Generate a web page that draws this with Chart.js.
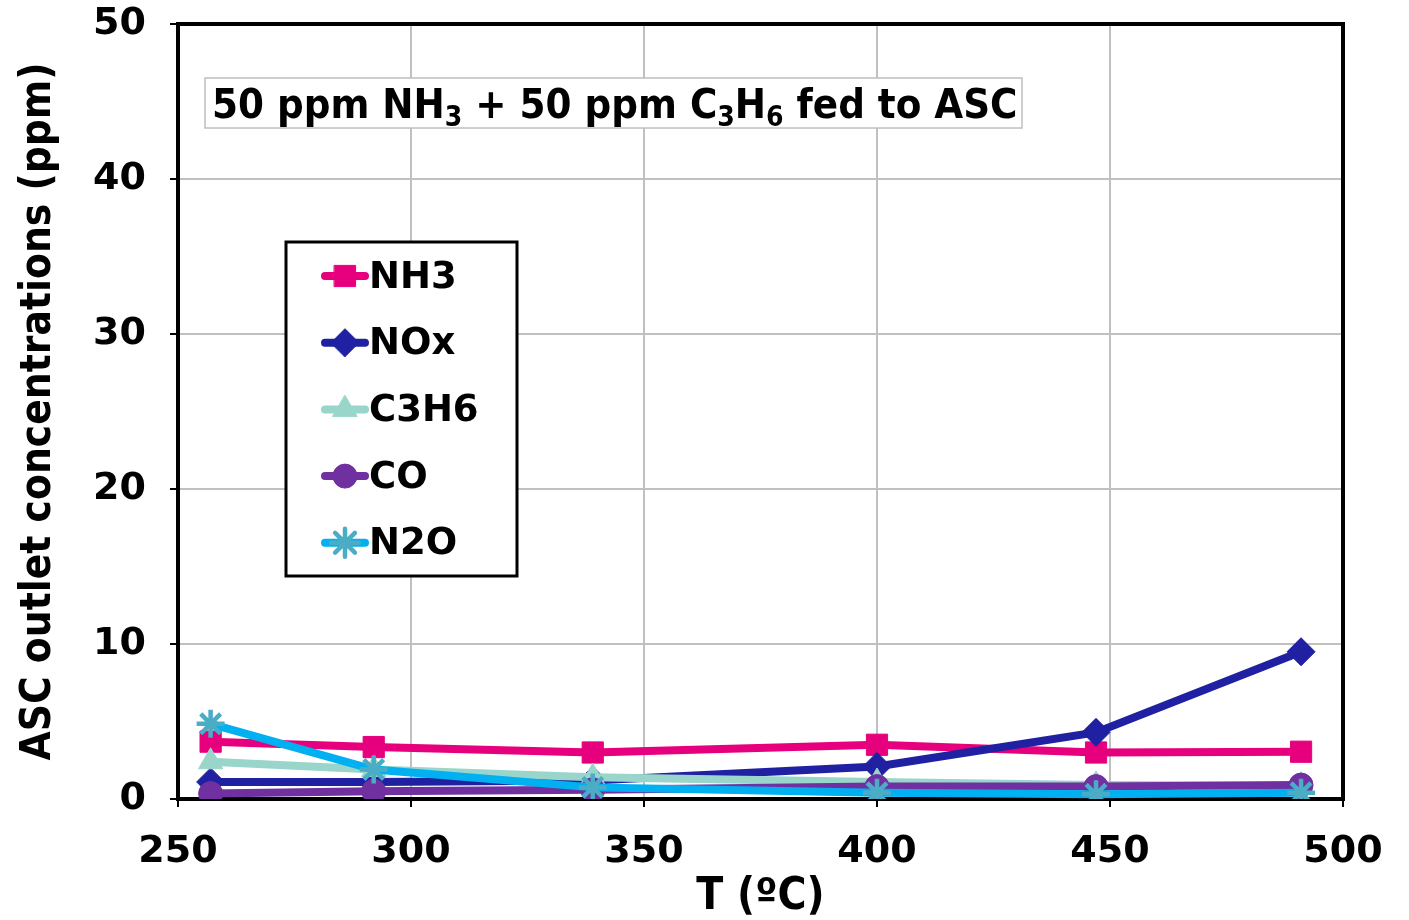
<!DOCTYPE html>
<html>
<head>
<meta charset="utf-8">
<script src="https://cdn.jsdelivr.net/npm/chart.js@4.4.1/dist/chart.umd.min.js"></script>
<style>
  html, body { margin: 0; padding: 0; background: #fff; }
  #wrap { width: 1409px; height: 920px; }
</style>
</head>
<body>
<div id="wrap"><canvas id="LineChart" width="1409" height="920"></canvas></div>
<script>
// temperatures (ºC) and outlet concentrations (ppm)
var temps = [257, 292, 339, 400, 447, 491];
var nh3  = [3.7, 3.35, 3.0, 3.5, 3.0, 3.05];
var nox  = [1.1, 1.1, 1.2, 2.1, 4.3, 9.5];
var c3h6 = [2.4, 1.9, 1.4, 1.1, 0.9, 0.85];
var co   = [0.35, 0.5, 0.6, 0.8, 0.8, 0.9];
var n2o  = [4.85, 1.9, 0.75, 0.4, 0.3, 0.4];

var xTicks = [250, 300, 350, 400, 450, 500];
var yTicks = [0, 10, 20, 30, 40, 50];

function puntos(valores) {
    return temps.map(function(t, i) { return { x: t, y: valores[i] }; });
}

function serie(label, valores, color, estilo, radio, orden, colorPunto) {
    return {
        label: label,
        data: puntos(valores),
        borderColor: color,
        backgroundColor: colorPunto || color,
        borderWidth: 8,
        pointStyle: estilo,
        pointRadius: radio,
        pointBackgroundColor: colorPunto || color,
        pointBorderColor: colorPunto || color,
        pointBorderWidth: estilo === 'star' ? 4.5 : 1,
        tension: 0,
        order: orden
    };
}

var fuente = 'DejaVu Sans';
var fuenteCond = '"DejaVu Sans Condensed", "DejaVu Sans"';

// recuadro con el texto de condiciones
var cajaTitulo = {
    id: 'cajaTitulo',
    afterDraw: function(chart) {
        var ctx = chart.ctx;
        ctx.save();
        ctx.fillStyle = '#fff';
        ctx.strokeStyle = '#bfbfbf';
        ctx.lineWidth = 1.5;
        ctx.fillRect(205, 78, 817, 50);
        ctx.strokeRect(205, 78, 817, 50);
        var partes = [
            ['50 ppm NH', 0], ['3', 1], [' + 50 ppm C', 0], ['3', 1], ['H', 0], ['6', 1], [' fed to ASC', 0]
        ];
        var x = 212, base = 118;
        ctx.fillStyle = '#000';
        ctx.textBaseline = 'alphabetic';
        partes.forEach(function(p) {
            ctx.font = p[1] ? 'bold 28px ' + fuenteCond : 'bold 41.5px ' + fuenteCond;
            ctx.fillText(p[0], x, p[1] ? base + 8 : base);
            x += ctx.measureText(p[0]).width;
        });
        ctx.restore();
    }
};

// leyenda dibujada dentro del área
var leyenda = {
    id: 'leyenda',
    afterDraw: function(chart) {
        var ctx = chart.ctx;
        ctx.save();
        ctx.fillStyle = '#fff';
        ctx.fillRect(286, 242, 231, 334);
        ctx.strokeStyle = '#000';
        ctx.lineWidth = 3;
        ctx.strokeRect(286, 242, 231, 334);
        chart.data.datasets.forEach(function(ds, i) {
            var y = 276 + i * 66.7;
            ctx.strokeStyle = ds.borderColor;
            ctx.lineWidth = 8;
            ctx.lineCap = 'round';
            ctx.beginPath();
            ctx.moveTo(325, y);
            ctx.lineTo(365, y);
            ctx.stroke();
            ctx.fillStyle = ds.pointBackgroundColor;
            ctx.strokeStyle = ds.pointBorderColor;
            ctx.lineWidth = ds.pointBorderWidth;
            Chart.helpers.drawPoint(ctx, { pointStyle: ds.pointStyle, radius: ds.pointRadius, rotation: 0, borderWidth: ds.pointBorderWidth }, 345, y);
            ctx.fillStyle = '#000';
            ctx.font = 'bold 37px ' + fuente;
            ctx.textBaseline = 'middle';
            ctx.fillText(ds.label, 369, y + 2);
        });
        ctx.restore();
    }
};

// marco negro del área de trazado
var marco = {
    id: 'marco',
    beforeDatasetsDraw: function(chart) {
        var a = chart.chartArea, ctx = chart.ctx;
        ctx.save();
        ctx.strokeStyle = '#000';
        ctx.lineWidth = 4;
        ctx.strokeRect(a.left, a.top, a.right - a.left, a.bottom - a.top);
        ctx.restore();
    }
};

var ctx = document.getElementById('LineChart').getContext('2d');
var LineChart = new Chart(ctx, {
    type: 'line',
    data: {
        datasets: [
            serie('NH3', nh3, '#e6007e', 'rect', 15, 4),
            serie('NOx', nox, '#2020a2', 'rectRot', 14, 3),
            serie('C3H6', c3h6, '#99d5ca', 'triangle', 14, 2),
            serie('CO', co, '#7030a0', 'circle', 12, 1),
            serie('N2O', n2o, '#00b0f0', 'star', 14, 0, '#4bacc6')
        ]
    },
    options: {
        responsive: false,
        animation: false,
        events: [],
        layout: { padding: { top: 24, right: 66, left: 0, bottom: 0 } },
        plugins: {
            legend: { display: false },
            tooltip: { enabled: false }
        },
        scales: {
            x: {
                type: 'linear',
                min: 250,
                max: 500,
                afterBuildTicks: function(s) { s.ticks = xTicks.map(function(v) { return { value: v }; }); },
                afterFit: function(s) { s.height = 121; s.paddingLeft = 0; s.paddingRight = 0; },
                grid: { color: '#c0c0c0', lineWidth: 2, tickColor: '#000', tickLength: 8, tickWidth: 2 },
                border: { display: false },
                ticks: { color: '#000', padding: 22, maxRotation: 0, font: { family: fuente, weight: 'bold', size: 38 } },
                title: {
                    display: true,
                    text: 'T (ºC)',
                    color: '#000',
                    padding: { top: 0, bottom: 0 },
                    font: { family: fuenteCond, weight: 'bold', size: 44, lineHeight: 1.0 }
                }
            },
            y: {
                min: 0,
                max: 50,
                afterBuildTicks: function(s) { s.ticks = yTicks.map(function(v) { return { value: v }; }); },
                afterFit: function(s) { s.width = 178; s.paddingTop = 0; s.paddingBottom = 0; },
                grid: { color: '#c0c0c0', lineWidth: 2, tickColor: '#000', tickLength: 8, tickWidth: 2 },
                border: { display: false },
                ticks: { color: '#000', padding: 24, font: { family: fuente, weight: 'bold', size: 38 } },
                title: {
                    display: true,
                    text: 'ASC outlet concentrations (ppm)',
                    color: '#000',
                    padding: { top: 14, bottom: 0 },
                    font: { family: fuenteCond, weight: 'bold', size: 42 }
                }
            }
        }
    },
    plugins: [marco, leyenda, cajaTitulo]
});
</script>
</body>
</html>
